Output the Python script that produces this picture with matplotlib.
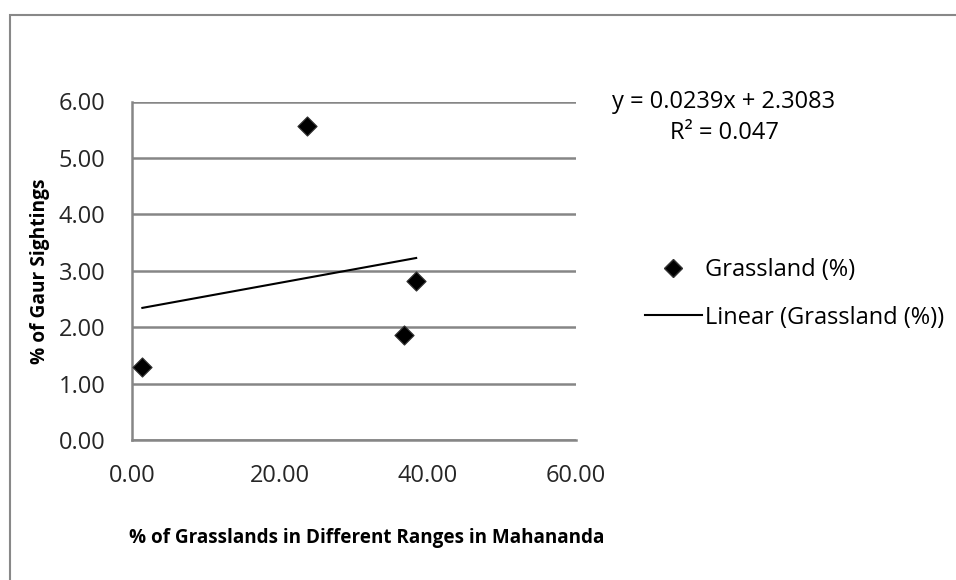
import matplotlib
matplotlib.use('Agg')
import matplotlib.pyplot as plt
from matplotlib.lines import Line2D
from matplotlib.patches import Rectangle
import numpy as np

plt.rcParams['font.family'] = ['Open Sans', 'DejaVu Sans']

# ── data ───────────────────────────────────────────────────────────────
grassland_pct = [1.4, 23.6, 36.8, 38.4]
gaur_sightings = [1.30, 5.57, 1.87, 2.82]
trend_slope = 0.0239
trend_intercept = 2.3083
r_squared = 0.047
x_ticks = [0, 20, 40, 60]
y_ticks = [0, 1, 2, 3, 4, 5, 6]

GRID = "#868686"
FS = 17

fig = plt.figure(figsize=(9.56, 5.80), dpi=100)
fig.patches.append(Rectangle((10 / 956, -0.1), 1.2, 1 - 15 / 580 + 0.1,
                             transform=fig.transFigure, fill=False,
                             edgecolor="#888888", linewidth=1.5))

ax = fig.add_axes([132 / 956, 1 - 440 / 580, 444 / 956, 338.5 / 580])

ax.scatter(grassland_pct, gaur_sightings, marker="D", s=95, color="black",
           edgecolors="#333333", linewidths=0.8, zorder=3)

xs = np.array([min(grassland_pct), max(grassland_pct)])
ax.plot(xs, trend_slope * xs + trend_intercept, color="black", linewidth=1.5, zorder=2)

ax.set_xlim(0, 60)
ax.set_ylim(0, 6)
ax.set_xticks(x_ticks)
ax.set_yticks(y_ticks)
ax.set_xticklabels([f"{v:.2f}" for v in x_ticks], fontsize=FS)
ax.set_yticklabels([f"{v:.2f}" for v in y_ticks], fontsize=FS)
ax.tick_params(length=0, colors="#262626")
ax.tick_params(axis="x", pad=17)
ax.tick_params(axis="y", pad=19)
ax.grid(axis="y", color=GRID, linewidth=1.8)
ax.set_axisbelow(True)
for side in ["top", "right"]:
    ax.spines[side].set_visible(False)
for side in ["left", "bottom"]:
    ax.spines[side].set_color(GRID)
    ax.spines[side].set_linewidth(1.8)

fig.text(40 / 956, 1 - 271 / 580, "% of Gaur Sightings", rotation=90,
         ha="center", va="center", fontsize=13.8, fontweight="bold")
fig.text(367 / 956, 1 - 538 / 580, "% of Grasslands in Different Ranges in Mahananda",
         ha="center", va="center", fontsize=13.6, fontweight="bold")

# trendline equation
fig.text(724 / 956, 1 - 102 / 580, f"y = {trend_slope}x + {trend_intercept}",
         ha="center", va="center", fontsize=FS)
fig.text(724 / 956, 1 - 133 / 580, f"R² = {r_squared}",
         ha="center", va="center", fontsize=FS)

handles = [
    Line2D([], [], marker="D", linestyle="none", color="black",
           markeredgecolor="#333333", markersize=9.5),
    Line2D([], [], color="black", linewidth=1.5),
]
fig.legend(handles, ["Grassland (%)", "Linear (Grassland (%))"],
           loc="upper left", bbox_to_anchor=(645 / 956, 1 - 258 / 580),
           frameon=False, fontsize=FS, handlelength=2.4, handletextpad=0.15,
           labelspacing=1.0, borderpad=0, borderaxespad=0)

fig.savefig("out.png", dpi=100, facecolor="white")
